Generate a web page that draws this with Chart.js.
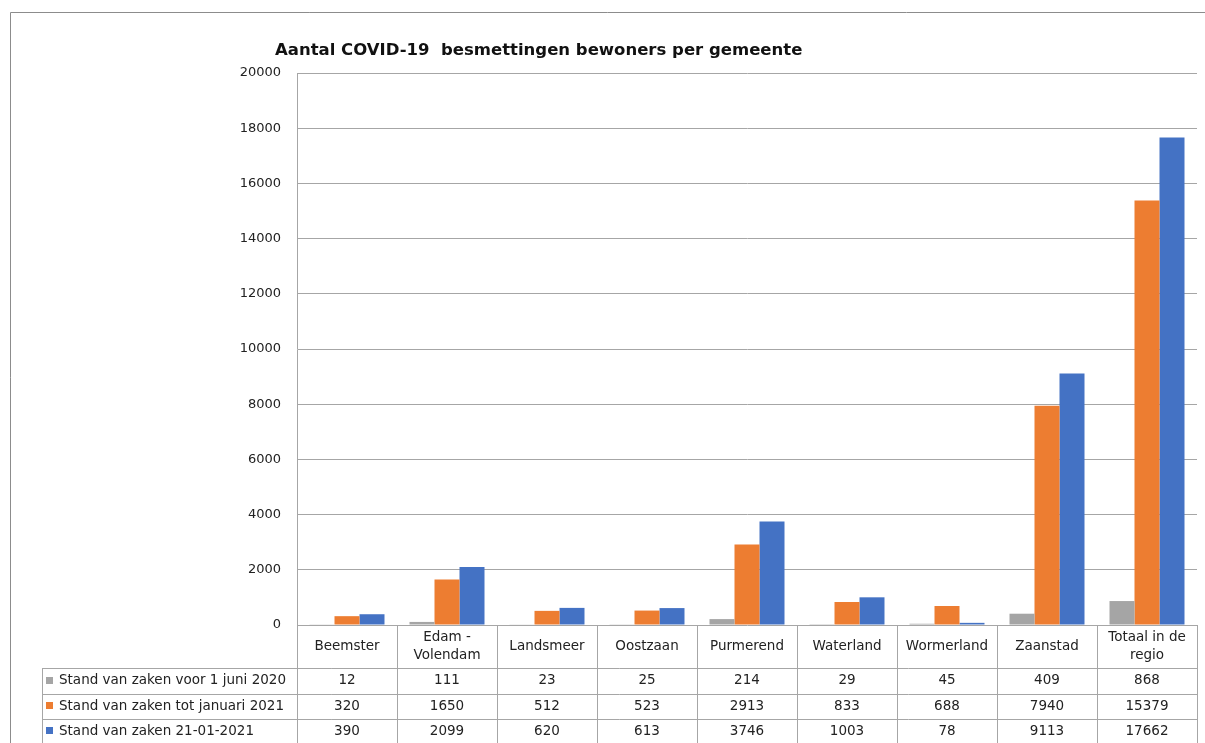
<!DOCTYPE html>
<html>
<head>
<meta charset="utf-8">
<script src="https://cdn.jsdelivr.net/npm/chart.js@4"></script>
<style>
  body { margin: 0; background: #fff; }
  #wrap { width: 1205px; height: 743px; position: relative; }
</style>
</head>
<body>
<div id="wrap"><canvas id="covidChart"></canvas></div>
<script>
// gegevens uit de tabel
const gemeenten = ['Beemster', ['Edam -', 'Volendam'], 'Landsmeer', 'Oostzaan', 'Purmerend',
    'Waterland', 'Wormerland', 'Zaanstad', ['Totaal in de', 'regio']];
const reeksNamen = ['Stand van zaken voor 1 juni 2020', 'Stand van zaken tot januari 2021', 'Stand van zaken 21-01-2021'];
const standJuni2020 = [12, 111, 23, 25, 214, 29, 45, 409, 868];
const standTotJan2021 = [320, 1650, 512, 523, 2913, 833, 688, 7940, 15379];
const stand21012021 = [390, 2099, 620, 613, 3746, 1003, 78, 9113, 17662];
const yTicks = [0, 2000, 4000, 6000, 8000, 10000, 12000, 14000, 16000, 18000, 20000];

const kleuren = ['#a5a5a5', '#ed7d31', '#4472c4'];
const reeksen = [standJuni2020, standTotJan2021, stand21012021];
const lijnKleur = '#a6a6a6';
const tekstFont = '13.5px "DejaVu Sans", sans-serif';

// tabel onder de grafiek + titel + kader
const tabelPlugin = {
    id: 'tabel',
    afterDraw(chart) {
        const ctx = chart.ctx;
        const area = chart.chartArea;
        const x = chart.scales.x;
        const colW = (area.right - area.left) / gemeenten.length;
        const rijTop = [area.bottom, 668, 693.5, 719, 743];
        const legLeft = 42;

        ctx.save();
        // kader rond de afbeelding
        ctx.strokeStyle = '#8c8c8c';
        ctx.lineWidth = 1;
        ctx.beginPath();
        ctx.moveTo(10.5, 743); ctx.lineTo(10.5, 12.5); ctx.lineTo(1205, 12.5);
        ctx.stroke();

        // titel
        ctx.fillStyle = '#111';
        ctx.font = 'bold 16.5px "DejaVu Sans", sans-serif';
        ctx.textAlign = 'left';
        ctx.textBaseline = 'middle';
        ctx.fillText('Aantal COVID-19  besmettingen bewoners per gemeente', 275, 51);

        // tabel lijnen
        ctx.strokeStyle = lijnKleur;
        ctx.beginPath();
        for (let i = 0; i <= gemeenten.length; i++) {
            const lx = Math.round(area.left + i * colW) + 0.5;
            ctx.moveTo(lx, area.bottom); ctx.lineTo(lx, 743);
        }
        for (let r = 1; r < rijTop.length; r++) {
            const ly = Math.round(rijTop[r]) + 0.5;
            ctx.moveTo(legLeft + 0.5, ly); ctx.lineTo(area.right, ly);
        }
        ctx.moveTo(legLeft + 0.5, rijTop[1]); ctx.lineTo(legLeft + 0.5, 743);
        ctx.stroke();

        // categorie namen
        ctx.fillStyle = '#222';
        ctx.font = tekstFont;
        ctx.textAlign = 'center';
        const catMid = (rijTop[0] + rijTop[1]) / 2;
        gemeenten.forEach((g, i) => {
            const cx = x.getPixelForValue(i);
            const regels = Array.isArray(g) ? g : [g];
            regels.forEach((t, j) => {
                const cy = catMid + (j - (regels.length - 1) / 2) * 18;
                ctx.fillText(t, cx, cy);
            });
        });

        // waarden + legenda
        reeksen.forEach((reeks, r) => {
            const cy = (rijTop[r + 1] + rijTop[r + 2]) / 2;
            ctx.fillStyle = kleuren[r];
            ctx.fillRect(46, Math.round(cy) - 4, 7, 7);
            ctx.fillStyle = '#222';
            ctx.textAlign = 'left';
            ctx.fillText(reeksNamen[r], 59, cy);
            ctx.textAlign = 'center';
            reeks.forEach((v, i) => {
                ctx.fillText(String(v), x.getPixelForValue(i), cy);
            });
        });
        ctx.restore();
    }
};

const ctx = document.getElementById('covidChart').getContext('2d');
new Chart(ctx, {
    type: 'bar',
    data: {
        labels: gemeenten,
        datasets: reeksen.map((reeks, i) => ({
            label: reeksNamen[i],
            data: reeks,
            backgroundColor: kleuren[i],
            borderWidth: 0
        }))
    },
    options: {
        responsive: true,
        maintainAspectRatio: false,
        animation: false,
        datasets: {
            bar: { categoryPercentage: 0.75, barPercentage: 1 }
        },
        layout: { padding: { top: 73, right: 8, bottom: 118, left: 0 } },
        plugins: {
            legend: { display: false },
            tooltip: { enabled: false }
        },
        scales: {
            x: { display: false },
            y: {
                min: 0,
                max: 20000,
                afterBuildTicks: scale => { scale.ticks = yTicks.map(v => ({ value: v })); },
                afterFit: scale => { scale.width = 297; },
                grid: { color: lijnKleur, drawTicks: false },
                border: { color: lijnKleur },
                ticks: {
                    padding: 16,
                    color: '#222',
                    font: { family: '"DejaVu Sans", sans-serif', size: 13 },
                    callback: v => String(v)
                }
            }
        }
    },
    plugins: [tabelPlugin]
});
</script>
</body>
</html>
